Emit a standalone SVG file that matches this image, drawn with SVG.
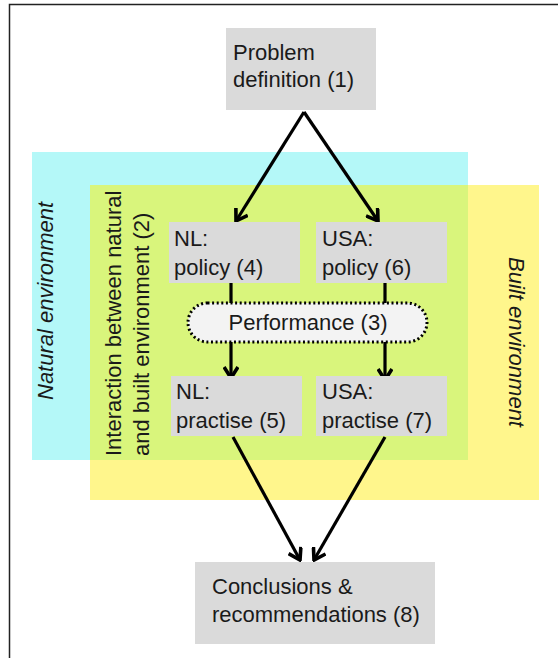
<svg xmlns="http://www.w3.org/2000/svg" width="558" height="658" viewBox="0 0 558 658">
<style>
  .frame { stroke: #222; stroke-width: 1.5; fill: none; }
  .box { fill: #dadada; }
  .lbl { font-family: "Liberation Sans", Arial, sans-serif; font-size: 22px; fill: #1a1a1a; }
  .ital { font-style: italic; }
  .conn { stroke: #000; stroke-width: 3.2; fill: none; }
  .pill { fill: #f3f3f3; stroke: #000; stroke-width: 3; stroke-dasharray: 2 2.6; }
</style>
<defs>
  <marker id="arr" markerUnits="userSpaceOnUse" viewBox="0 0 16 16" markerWidth="16" markerHeight="16" refX="14" refY="8" orient="auto">
    <path d="M3,1 L14,8 L3,15" fill="none" stroke="#000" stroke-width="3.6" stroke-linejoin="miter"/>
  </marker>
</defs>
<rect width="558" height="658" fill="#ffffff"/>
<g id="frame">
  <path class="frame" d="M9.5,660 L9.5,4.5 L560,4.5"/>
</g>
<g id="natural-environment">
  <rect x="32" y="152" width="436" height="308" fill="#b4f8f8"/>
</g>
<g id="built-environment">
  <rect x="90" y="185" width="449" height="315" fill="#fff68c"/>
</g>
<g id="interaction">
  <rect x="90" y="185" width="378" height="275" fill="#d9f57c"/>
  <text class="lbl" transform="translate(121,456) rotate(-90)">Interaction between natural</text>
  <text class="lbl" transform="translate(149,456) rotate(-90)">and built environment (2)</text>
</g>
<g id="natural-label">
  <text class="lbl ital" transform="translate(53,400) rotate(-90)">Natural environment</text>
</g>
<g id="built-label">
  <text class="lbl ital" transform="translate(509,257) rotate(90)">Built environment</text>
</g>
<g id="connectors">
  <line class="conn" x1="304" y1="112" x2="236" y2="221" marker-end="url(#arr)"/>
  <line class="conn" x1="304" y1="112" x2="378" y2="221" marker-end="url(#arr)"/>
  <line class="conn" x1="231" y1="283" x2="231" y2="378" marker-end="url(#arr)"/>
  <line class="conn" x1="385" y1="283" x2="385" y2="380" marker-end="url(#arr)"/>
  <line class="conn" x1="233" y1="437" x2="300" y2="560" marker-end="url(#arr)"/>
  <line class="conn" x1="385" y1="437" x2="314" y2="560" marker-end="url(#arr)"/>
</g>
<g id="problem">
  <rect class="box" x="226" y="28" width="150" height="82"/>
  <text class="lbl" x="233" y="60">Problem</text>
  <text class="lbl" x="233" y="87">definition (1)</text>
</g>
<g id="nl-policy">
  <rect class="box" x="169" y="222" width="131" height="61"/>
  <text class="lbl" x="174" y="246">NL:</text>
  <text class="lbl" x="174" y="275">policy (4)</text>
</g>
<g id="usa-policy">
  <rect class="box" x="316" y="222" width="131" height="61"/>
  <text class="lbl" x="322" y="246">USA:</text>
  <text class="lbl" x="322" y="275">policy (6)</text>
</g>
<g id="performance">
  <rect class="pill" x="188" y="303" width="239" height="39" rx="19.5"/>
  <text class="lbl" x="308" y="330" text-anchor="middle">Performance (3)</text>
</g>
<g id="nl-practise">
  <rect class="box" x="171" y="376" width="131" height="60"/>
  <text class="lbl" x="176" y="399">NL:</text>
  <text class="lbl" x="176" y="428">practise (5)</text>
</g>
<g id="usa-practise">
  <rect class="box" x="316" y="376" width="131" height="60"/>
  <text class="lbl" x="322" y="399">USA:</text>
  <text class="lbl" x="322" y="428">practise (7)</text>
</g>
<g id="conclusions">
  <rect class="box" x="195" y="562" width="240" height="82"/>
  <text class="lbl" x="212" y="594">Conclusions &amp;</text>
  <text class="lbl" x="212" y="622">recommendations (8)</text>
</g>
</svg>
